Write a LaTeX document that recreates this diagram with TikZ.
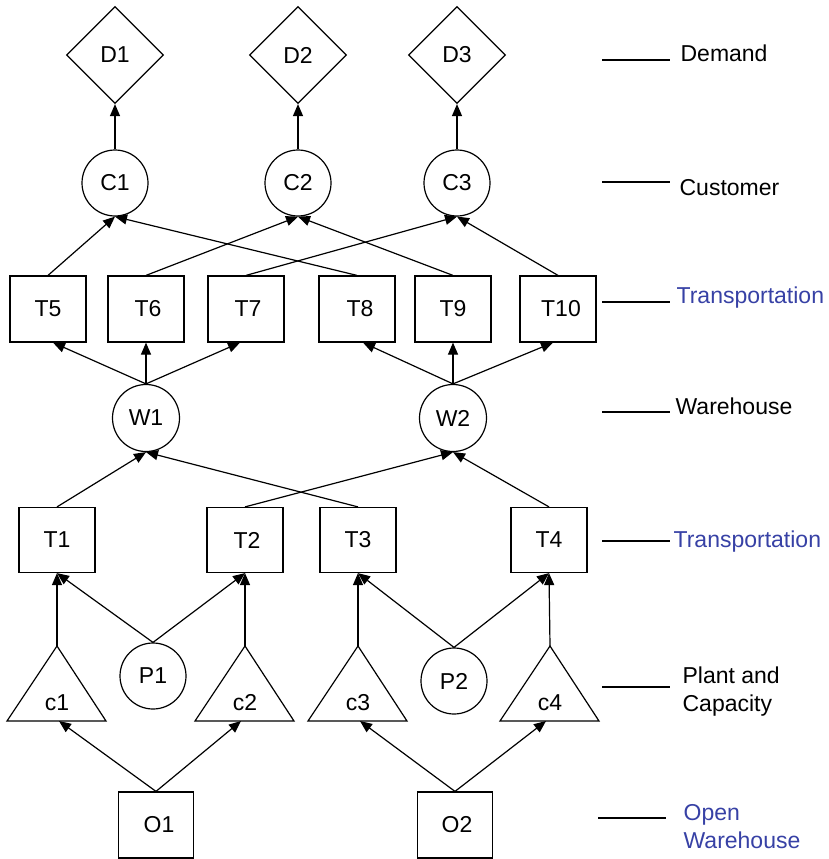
\documentclass[tikz,border=0pt]{standalone}
\usepackage{fontspec}
\setmainfont{Liberation Sans}
\usetikzlibrary{shapes.geometric,arrows.meta}
\definecolor{lblue}{RGB}{55,65,165}
\begin{document}
\begin{tikzpicture}[x=1pt,y=-1pt, line width=1.2pt,
  every node/.style={font=\fontsize{23}{28}\selectfont, inner sep=0pt},
  dia/.style={draw, diamond, minimum width=97pt, minimum height=97pt},
  circ/.style={draw, circle, minimum size=66pt},
  box/.style={draw, rectangle, minimum width=76pt, minimum height=66pt},
  arr/.style={-{Triangle[length=12pt,width=10pt]}},
  lead/.style={line width=1.2pt},
  lbl/.style={anchor=base west, align=left},
  blbl/.style={lbl, text=lblue}]
\useasboundingbox (0,0) rectangle (829,859);
% demand
\node[dia] (D1) at (115,55) {D1};
\node[dia] (D2) at (298,55) {D2};
\node[dia] (D3) at (457,55) {D3};
% customers
\node[circ] (C1) at (115,183) {C1};
\node[circ] (C2) at (298,183) {C2};
\node[circ] (C3) at (457,183) {C3};
% upper transportation
\node[box] (T5) at (48,309) {T5};
\node[box] (T6) at (146,309) {\hspace{4pt}T6};
\node[box] (T7) at (246,309) {\hspace{4pt}T7};
\node[box] (T8) at (357,309) {\hspace{6pt}T8};
\node[box] (T9) at (453,309) {T9};
\node[box] (T10) at (558,309) {\hspace{6pt}T10};
% warehouses
\node[circ, minimum size=67pt] (W1) at (146,418) {W1};
\node[circ, minimum size=67pt] (W2) at (453,418) {W2};
% lower transportation
\node[box, minimum height=65pt] (T1) at (57,540) {T1};
\node[box, minimum height=65pt] (T2) at (245,540) {\hspace{4pt}T2};
\node[box, minimum height=65pt] (T3) at (358,540) {T3};
\node[box, minimum height=65pt] (T4) at (549,540) {T4};
% capacities
\foreach \n/\x in {c1/57,c2/245,c3/358,c4/550} {
  \draw (\x-50,721) -- (\x,646) -- (\x+49,721) -- cycle;
  \coordinate (\n t) at (\x,646);
  \coordinate (\n b) at (\x+2,721);
  \node (\n) at (\x,703) {\n};
}
% plants
\node[circ] (P1) at (153,676) {P1};
\node[circ] (P2) at (454,681) {P2};
% open warehouse
\node[box, minimum width=75pt] (O1) at (156,825) {\hspace{6pt}O1};
\node[box, minimum width=75pt] (O2) at (455,825) {\hspace{4pt}O2};
% connectors
\draw[arr] (C1.north) -- (D1.south);
\draw[arr] (C2.north) -- (D2.south);
\draw[arr] (C3.north) -- (D3.south);
\draw[arr] (T5.north) -- (C1.south);
\draw[arr] (T8.north) -- (C1.south);
\draw[arr] (T6.north) -- (C2.south);
\draw[arr] (T9.north) -- (C2.south);
\draw[arr] (T7.north) -- (C3.south);
\draw[arr] (T10.north) -- (C3.south);
\draw[arr] (W1.north) -- ([xshift=5pt]T5.south);
\draw[arr] (W1.north) -- (T6.south);
\draw[arr] (W1.north) -- ([xshift=-6pt]T7.south);
\draw[arr] (W2.north) -- ([xshift=6pt]T8.south);
\draw[arr] (W2.north) -- (T9.south);
\draw[arr] (W2.north) -- ([xshift=-5pt]T10.south);
\draw[arr] (T1.north) -- (W1.south);
\draw[arr] (T3.north) -- (W1.south);
\draw[arr] (T2.north) -- (W2.south);
\draw[arr] (T4.north) -- (W2.south);
\draw[arr] (c1t) -- (T1.south);
\draw[arr] (P1.north) -- (T1.south);
\draw[arr] (P1.north) -- (T2.south);
\draw[arr] (c2t) -- (T2.south);
\draw[arr] (c3t) -- (T3.south);
\draw[arr] (P2.north) -- (T3.south);
\draw[arr] (P2.north) -- (T4.south);
\draw[arr] (c4t) -- (T4.south);
\draw[arr] (O1.north) -- (c1b);
\draw[arr] (O1.north) -- ([xshift=-6pt]c2b);
\draw[arr] (O2.north) -- (c3b);
\draw[arr] (O2.north) -- ([xshift=-6pt]c4b);
% legend
\draw[lead] (602,60) -- (670,60);
\node[lbl] (Ldem) at (680,62) {Demand};
\draw[lead] (602,182) -- (670,182);
\node[lbl] (Lcus) at (679,195) {Customer};
\draw[lead] (602,302) -- (670,302);
\node[blbl] (Ltr1) at (676,303) {Transportation};
\draw[lead] (602,412) -- (670,412);
\node[lbl] (Lwh) at (675,414) {Warehouse};
\draw[lead] (602,541) -- (670,541);
\node[blbl] (Ltr2) at (673,547) {Transportation};
\draw[lead] (602,687) -- (670,687);
\node[lbl] (Lpl) at (682,711) {Plant and\\Capacity};
\draw[lead] (598,818) -- (666,818);
\node[blbl] (Lop) at (683,848) {Open\\Warehouse};
\end{tikzpicture}
\end{document}
